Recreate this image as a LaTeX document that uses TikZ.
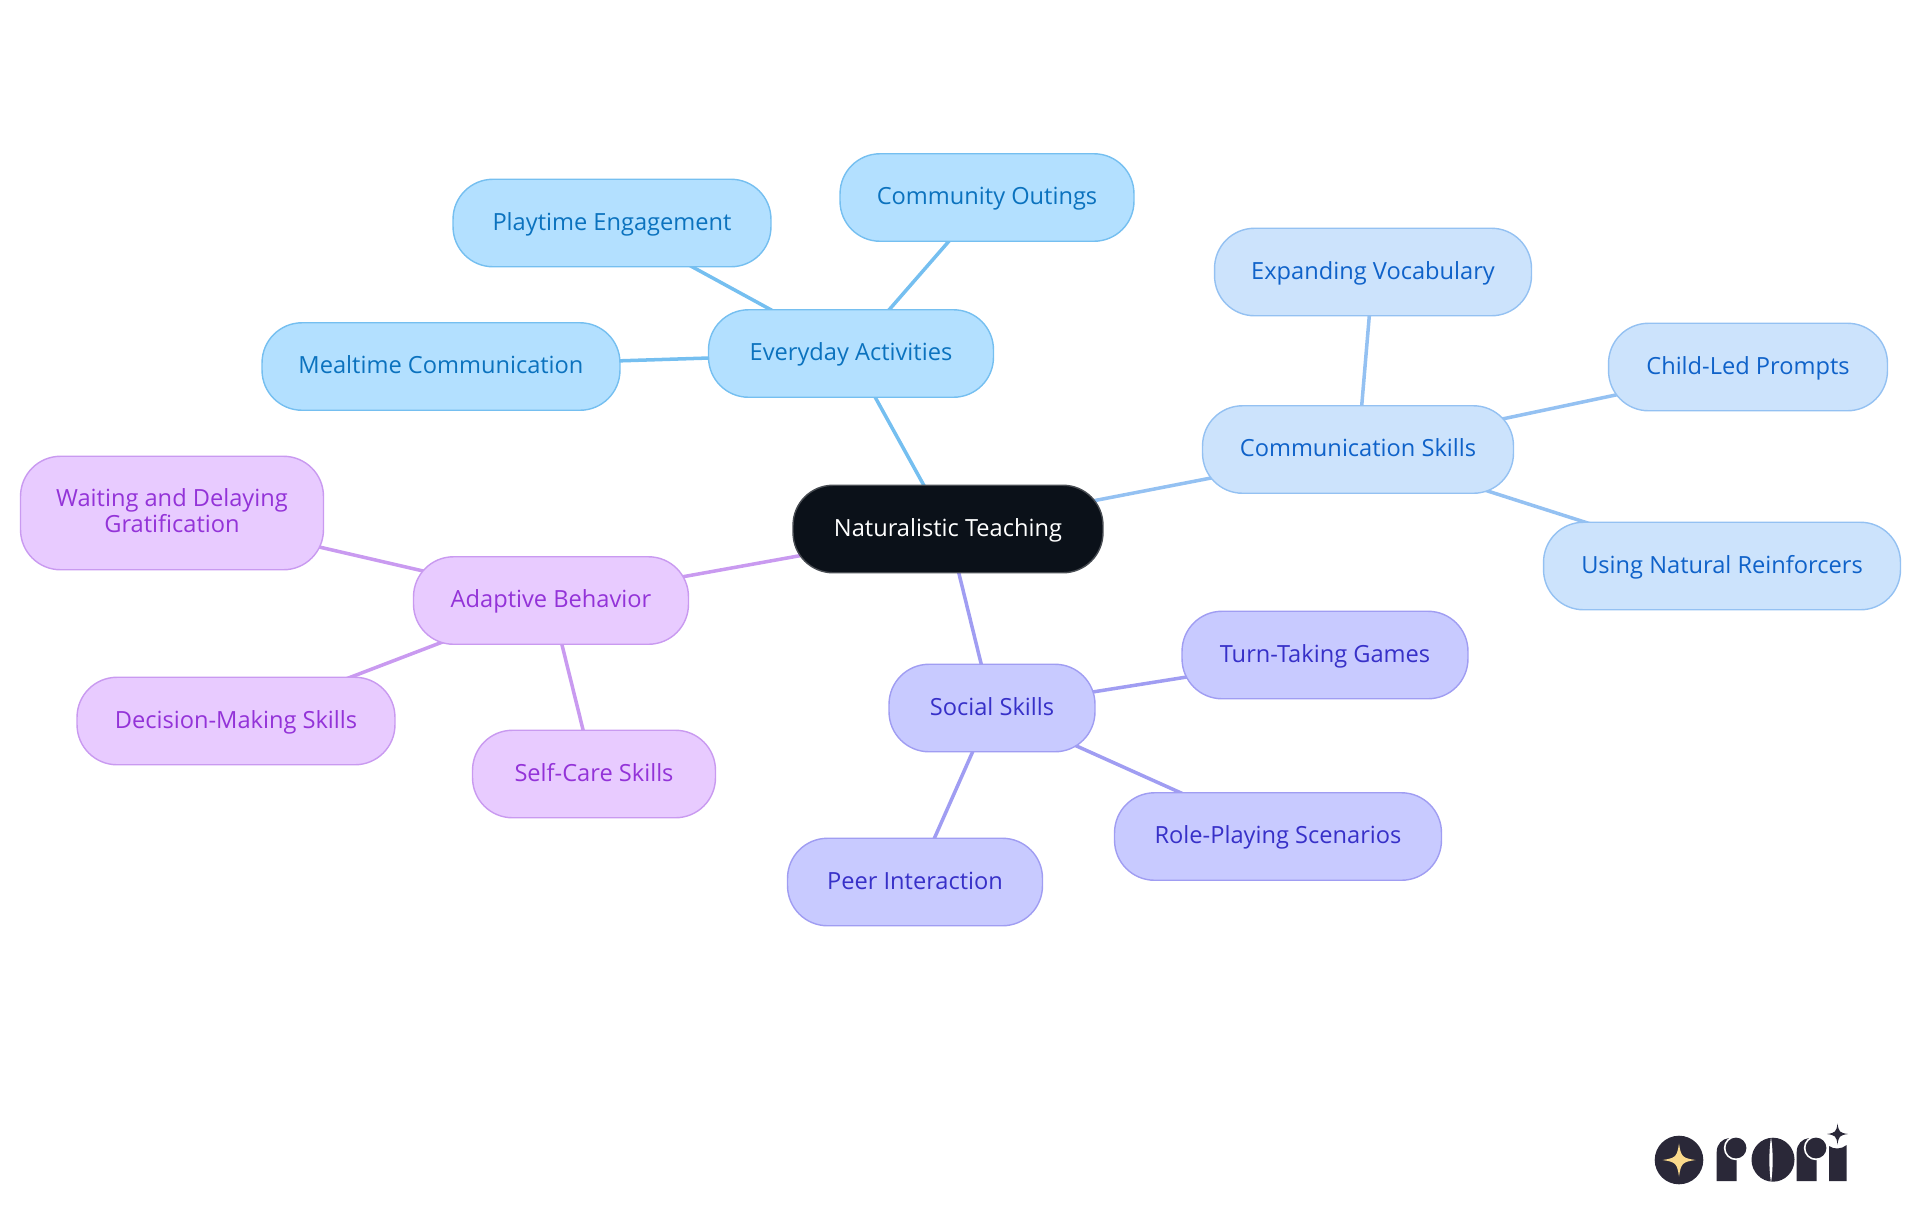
\documentclass[tikz,border=0pt]{standalone}
\usepackage{fontspec}
\setmainfont{Open Sans}
\usetikzlibrary{calc,backgrounds}

\definecolor{blueFill}{HTML}{B3E0FF}
\definecolor{blueLine}{HTML}{75BFF0}
\definecolor{blueText}{HTML}{0B72BE}
\definecolor{skyFill}{HTML}{CCE3FC}
\definecolor{skyLine}{HTML}{94C1F2}
\definecolor{skyText}{HTML}{0F62C9}
\definecolor{indigoFill}{HTML}{C8CAFF}
\definecolor{indigoLine}{HTML}{A09DF2}
\definecolor{indigoText}{HTML}{3730C8}
\definecolor{purpleFill}{HTML}{E8CBFF}
\definecolor{purpleLine}{HTML}{C99AF0}
\definecolor{purpleText}{HTML}{9333D8}
\definecolor{rootFill}{HTML}{0B1119}
\definecolor{logoDark}{HTML}{2A2838}
\definecolor{logoStar}{HTML}{FAD98B}

\def\sparkle[#1](#2)(#3){\fill[#1,shift={(#2)},scale=#3] (1,0) .. controls (0.2,0.12) and (0.12,0.2) .. (0,1) .. controls (-0.12,0.2) and (-0.2,0.12) .. (-1,0) .. controls (-0.2,-0.12) and (-0.12,-0.2) .. (0,-1) .. controls (0.12,-0.2) and (0.2,-0.12) .. (1,0) -- cycle;}

\tikzset{
	mapbox/.style={draw, rounded corners=0.8cm, line width=0.8pt, minimum height=1.75cm, align=center, inner sep=0pt, text height=10.5pt, text depth=2.5pt, font=\fontsize{13.45}{14.8}\selectfont},
	rootbox/.style={mapbox, fill=rootFill, draw=rootFill!75!white, text=white},
	bluebox/.style={mapbox, fill=blueFill, draw=blueLine, text=blueText},
	skybox/.style={mapbox, fill=skyFill, draw=skyLine, text=skyText},
	indigobox/.style={mapbox, fill=indigoFill, draw=indigoLine, text=indigoText},
	purplebox/.style={mapbox, fill=purpleFill, draw=purpleLine, text=purpleText},
	branch/.style={line width=2pt},
}

\begin{document}
\begin{tikzpicture}[x=0.02cm,y=-0.02cm]
	%%%%% PAGE %%%%%
	\useasboundingbox (0,0) rectangle (1920,1215);

	%%%%% NODES %%%%%
	\node[rootbox, minimum width=6.2cm] (root) at (948,529) {Naturalistic Teaching};

	\node[bluebox, minimum width=5.7cm] (everyday) at (851,353.5) {Everyday Activities};
	\node[bluebox, minimum width=5.88cm] (outings) at (987,197.5) {Community Outings};
	\node[bluebox, minimum width=6.36cm] (playtime) at (612,223) {Playtime Engagement};
	\node[bluebox, minimum width=7.16cm] (mealtime) at (441,366.5) {Mealtime Communication};

	\node[skybox, minimum width=6.22cm] (communication) at (1358,449.5) {Communication Skills};
	\node[skybox, minimum width=6.34cm] (vocabulary) at (1373,272) {Expanding Vocabulary};
	\node[skybox, minimum width=5.58cm] (prompts) at (1748,367) {Child-Led Prompts};
	\node[skybox, minimum width=7.14cm] (reinforcers) at (1722,566) {Using Natural Reinforcers};

	\node[indigobox, minimum width=4.12cm] (social) at (992,708) {Social Skills};
	\node[indigobox, minimum width=5.72cm] (turns) at (1325,655) {Turn-Taking Games};
	\node[indigobox, minimum width=6.54cm] (roleplay) at (1278,836.5) {Role-Playing Scenarios};
	\node[indigobox, minimum width=5.1cm] (peers) at (915,882) {Peer Interaction};

	\node[purplebox, minimum width=5.5cm] (adaptive) at (551,600.5) {Adaptive Behavior};
	\node[purplebox, minimum width=6.06cm, minimum height=2.27cm, text height=25pt, text depth=2.8pt] (waiting) at (172,513) {Waiting and Delaying\\Gratification};
	\node[purplebox, minimum width=6.36cm] (decision) at (236,721) {Decision-Making Skills};
	\node[purplebox, minimum width=4.86cm] (selfcare) at (594,774) {Self-Care Skills};

	%%%%% BRANCHES %%%%%
	\begin{scope}[on background layer]
		\draw[branch, blueLine] (root.center) -- (everyday.center);
		\draw[branch, blueLine] (everyday.center) -- (outings.center);
		\draw[branch, blueLine] (everyday.center) -- (playtime.center);
		\draw[branch, blueLine] (everyday.center) -- (mealtime.center);

		\draw[branch, skyLine] (root.center) -- (communication.center);
		\draw[branch, skyLine] (communication.center) -- (vocabulary.center);
		\draw[branch, skyLine] (communication.center) -- (prompts.center);
		\draw[branch, skyLine] (communication.center) -- (reinforcers.center);

		\draw[branch, indigoLine] (root.center) -- (social.center);
		\draw[branch, indigoLine] (social.center) -- (turns.center);
		\draw[branch, indigoLine] (social.center) -- (roleplay.center);
		\draw[branch, indigoLine] (social.center) -- (peers.center);

		\draw[branch, purpleLine] (root.center) -- (adaptive.center);
		\draw[branch, purpleLine] (adaptive.center) -- (waiting.center);
		\draw[branch, purpleLine] (adaptive.center) -- (decision.center);
		\draw[branch, purpleLine] (adaptive.center) -- (selfcare.center);
	\end{scope}

	%%%%% LOGO %%%%%
	\fill[logoDark] (1679,1160) circle (24.3);
	\sparkle[logoStar](1679,1160)(16.5);

	% first r
	\fill[logoDark] (1716.7,1181) -- (1716.7,1152) .. controls (1716.7,1144) and (1722,1139) .. (1729,1138) -- (1736.7,1138) -- (1736.7,1181) -- cycle;
	\fill[white] (1736,1148) circle (12.2);
	\fill[logoDark] (1736,1148) circle (10.4);

	% o
	\fill[logoDark] (1773,1159.7) circle [x radius=21.5, y radius=22];
	\fill[white] (1771,1137) .. controls (1768.8,1152) and (1768.8,1168) .. (1771,1183) .. controls (1773.2,1168) and (1773.2,1152) .. (1771,1137) -- cycle;

	% second r
	\fill[logoDark] (1796.7,1181) -- (1796.7,1152) .. controls (1796.7,1144) and (1802,1139) .. (1809,1138) -- (1816.7,1138) -- (1816.7,1181) -- cycle;
	\fill[white] (1816,1148) circle (12.2);
	\fill[logoDark] (1816,1148) circle (10.4);

	% i and its star
	\fill[logoDark] (1829,1181) -- (1829,1146) .. controls (1834,1149.5) and (1841,1149.5) .. (1846.7,1145) -- (1846.7,1181) -- cycle;
	\sparkle[logoDark](1837.5,1134)(10.5);
\end{tikzpicture}
\end{document}
